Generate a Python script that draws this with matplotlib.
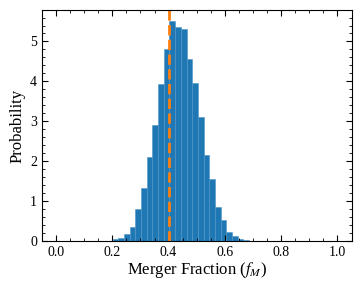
import numpy as np
import matplotlib
matplotlib.use("Agg")
import matplotlib.pyplot as plt
from matplotlib.ticker import MultipleLocator

plt.rcParams['font.family'] = ['Liberation Serif', 'DejaVu Serif']
plt.rcParams['mathtext.fontset'] = 'stix'

# histogram of merger fraction (density)
bin_start = 0.201
bin_width = 0.0202
density = [0.04, 0.08, 0.18, 0.35, 0.80, 1.32, 2.10, 2.91, 3.94, 4.81,
           5.51, 5.36, 5.30, 4.57, 3.96, 3.11, 2.15, 1.55, 0.84, 0.53,
           0.23, 0.13, 0.06, 0.03, 0.01]
f_true = 0.4

edges = bin_start + bin_width * np.arange(len(density) + 1)

fig = plt.figure(figsize=(3.62, 2.89), dpi=100)
ax = fig.add_axes([0.116, 0.166, 0.855, 0.799])

ax.bar(edges[:-1], density, width=bin_width, align='edge', color='C0',
       edgecolor='#4f95c8', linewidth=0.4)
ax.axvline(f_true, color='C1', linestyle='--', linewidth=2)

ax.set_xlim(-0.05, 1.05)
ax.set_xlabel('Merger Fraction ($f_M$)', fontsize=12, labelpad=1)
ax.set_ylabel('Probability', fontsize=12, labelpad=3)

ax.xaxis.set_major_locator(MultipleLocator(0.2))
ax.xaxis.set_minor_locator(MultipleLocator(0.05))
ax.yaxis.set_major_locator(MultipleLocator(1))
ax.yaxis.set_minor_locator(MultipleLocator(0.2))
ax.tick_params(which='both', direction='in', top=True, right=True, labelsize=10)
ax.tick_params(which='major', length=4)
ax.tick_params(which='minor', length=2)

fig.savefig('out.png', dpi=100)
